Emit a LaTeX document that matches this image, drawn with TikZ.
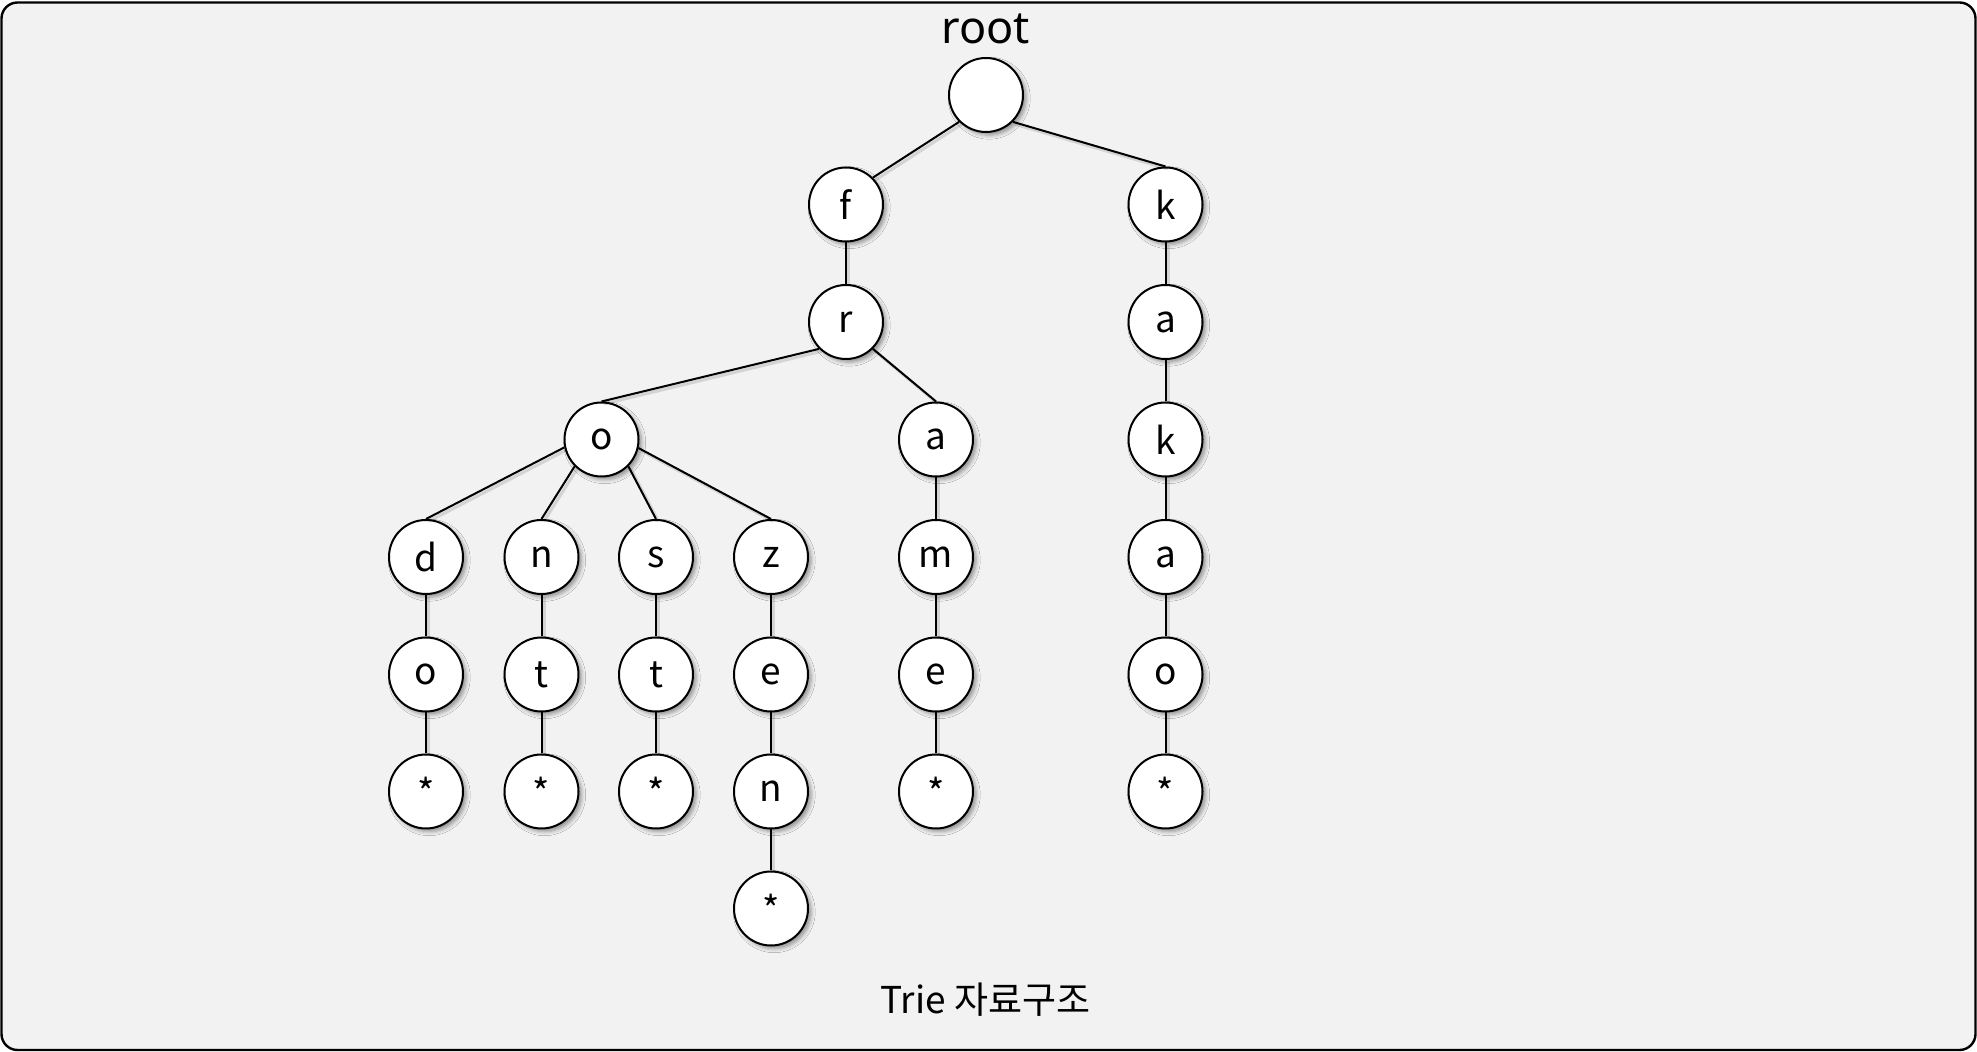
\documentclass[tikz,border=0pt]{standalone}
\usepackage{fontspec}
\setmainfont{Noto Sans}
\newfontfamily\cjk{Noto Sans CJK KR}
\usetikzlibrary{shadows.blur}
\definecolor{bgc}{HTML}{F2F2F2}
\begin{document}
\begin{tikzpicture}[x=0.5pt,y=-0.5pt,
  tn/.style={circle,draw,line width=1pt,fill=white,minimum size=37pt,inner sep=0pt,
    font=\cjk\fontsize{18.5}{20}\selectfont,
    blur shadow={shadow xshift=1.6pt,shadow yshift=-1.6pt,shadow blur radius=2pt,shadow opacity=40}},
  link/.style={line width=1pt,
    preaction={draw=black,opacity=0.12,line width=1.6pt,transform canvas={shift={(1.2pt,-1.2pt)}}}}]
\useasboundingbox (0,0) rectangle (1977,1052);
\draw[line width=1.2pt,fill=bgc,rounded corners=8pt] (1.5,2.5) rectangle (1975.5,1050);
% nodes
\node[tn] (R) at (986,95) {};
\node[anchor=base,inner sep=0pt,font=\fontsize{22.5}{24}\selectfont] (lbl) at (986,44) {root};
\node[tn] (f) at (846,204.5) {f};
\node[tn] (k1) at (1165.5,204.5) {k};
\node[tn] (r) at (846,322) {r};
\node[tn] (ka1) at (1165.5,322) {a};
\node[tn] (o) at (601.5,439.5) {o};
\node[tn] (a) at (936,439.5) {a};
\node[tn] (kk) at (1165.5,439.5) {k};
\node[tn] (d) at (426,557) {d};
\node[tn] (n) at (541.5,557) {n};
\node[tn] (s) at (656,557) {s};
\node[tn] (z) at (771,557) {z};
\node[tn] (m) at (936,557) {m};
\node[tn] (ka2) at (1165.5,557) {a};
\node[tn] (d2) at (426,674.5) {o};
\node[tn] (n2) at (541.5,674.5) {t};
\node[tn] (s2) at (656,674.5) {t};
\node[tn] (z2) at (771,674.5) {e};
\node[tn] (m2) at (936,674.5) {e};
\node[tn] (ko) at (1165.5,674.5) {o};
\node[tn] (d3) at (426,791.5) {*};
\node[tn] (n3) at (541.5,791.5) {*};
\node[tn] (s3) at (656,791.5) {*};
\node[tn] (z3) at (771,791.5) {n};
\node[tn] (m3) at (936,791.5) {*};
\node[tn] (ks) at (1165.5,791.5) {*};
\node[tn] (z4) at (771,908.5) {*};
\node[anchor=base,inner sep=0pt,font=\cjk\fontsize{18.5}{22}\selectfont] (cap) at (985.5,1013.5) {Trie 자료구조};
% links
\draw[link] (R.south west) -- (f.north east);
\draw[link] (R.south east) -- (k1.north);
\draw[link] (f) -- (r);
\draw[link] (r.south west) -- (o.north);
\draw[link] (r.south east) -- (a.north);
\draw[link] (o.192) -- (d.north);
\draw[link] (o.south west) -- (n.north);
\draw[link] (o.south east) -- (s.north);
\draw[link] (o.-13) -- (z.north);
\draw[link] (a) -- (m);
\draw[link] (m) -- (m2);
\draw[link] (m2) -- (m3);
\draw[link] (d) -- (d2);
\draw[link] (d2) -- (d3);
\draw[link] (n) -- (n2);
\draw[link] (n2) -- (n3);
\draw[link] (s) -- (s2);
\draw[link] (s2) -- (s3);
\draw[link] (z) -- (z2);
\draw[link] (z2) -- (z3);
\draw[link] (z3) -- (z4);
\draw[link] (k1) -- (ka1);
\draw[link] (ka1) -- (kk);
\draw[link] (kk) -- (ka2);
\draw[link] (ka2) -- (ko);
\draw[link] (ko) -- (ks);
\end{tikzpicture}
\end{document}
